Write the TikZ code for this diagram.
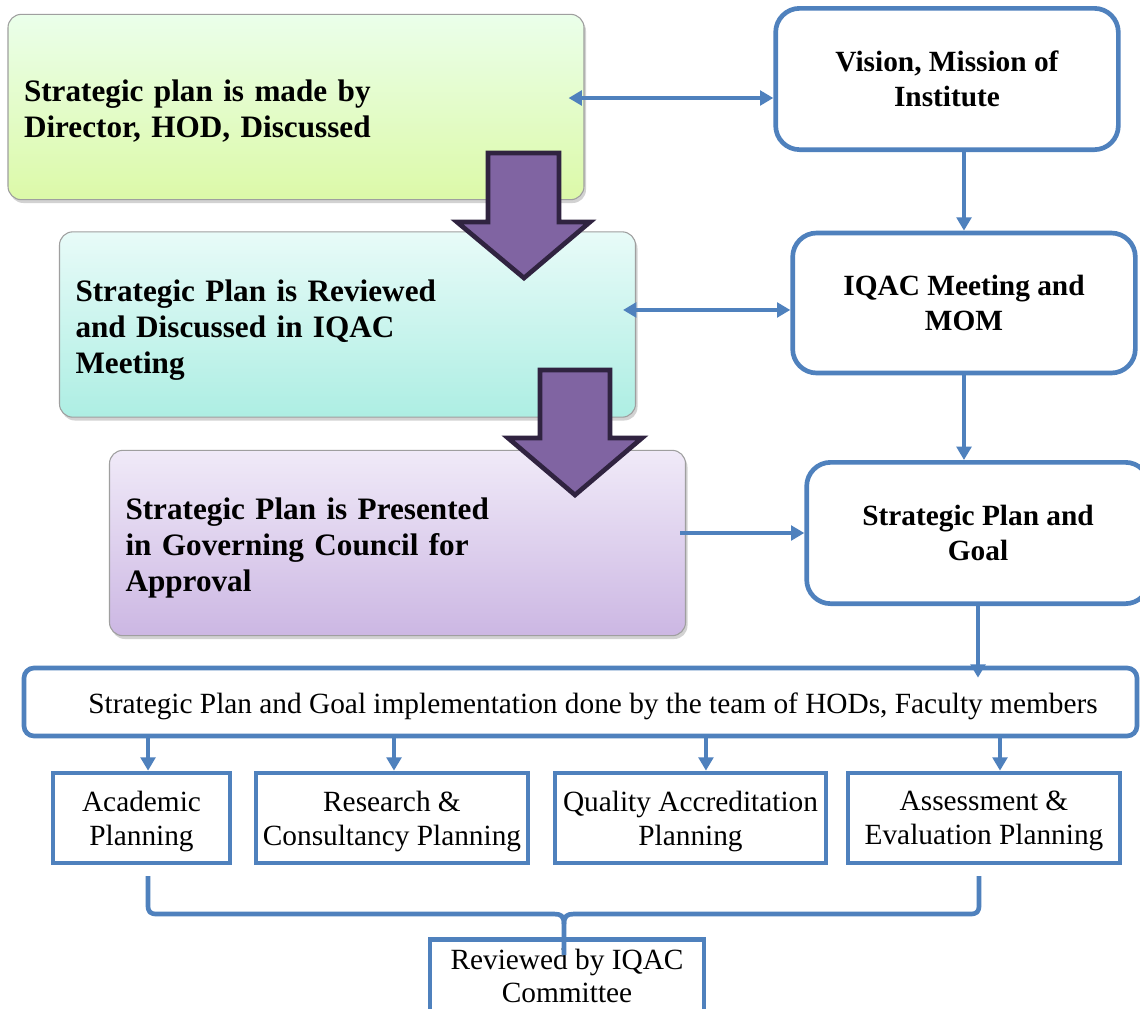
\documentclass[tikz,border=0pt]{standalone}
\usepackage{fontspec}
\setmainfont{Liberation Serif}
\usetikzlibrary{arrows.meta,shadows}
\definecolor{blu}{HTML}{4F81BD}
\definecolor{purp}{HTML}{8064A2}
\definecolor{purpdark}{HTML}{302340}
\begin{document}
\begin{tikzpicture}[x=0.75pt,y=-0.75pt,
  leftbox/.style={draw=gray!75, line width=0.8pt, rounded corners=10pt,
    minimum width=432pt, minimum height=139pt, inner xsep=12pt,
    text width=408pt, align=left,
    font=\fontsize{23.4}{27}\selectfont\bfseries,
    drop shadow={opacity=0.35,shadow xshift=1.5pt,shadow yshift=-2.5pt}},
  rbox/.style={draw=blu, line width=3.5pt, rounded corners=18pt, fill=white,
    minimum width=257pt, minimum height=106pt, align=center,
    font=\fontsize{22}{26}\selectfont\bfseries},
  bbox/.style={draw=blu, line width=3.5pt, fill=white,
    minimum height=67.5pt, align=center, inner sep=1pt, text depth=0pt,
    font=\fontsize{22}{25.5}\selectfont},
  conn/.style={draw=blu, line width=3.5pt, -{Triangle[length=10pt,width=11pt]}},
  dconn/.style={draw=blu, line width=3.5pt, {Triangle[length=10pt,width=11pt]}-{Triangle[length=10pt,width=11pt]}},
  blockarrow/.style={fill=purp, draw=purpdark, line width=3.5pt, line join=miter},
  bracepath/.style={draw=blu, line width=3.5pt}
]
\clip (0,0) rectangle (1140,1008);
\fill[white] (0,0) rectangle (1140,1008);

% left boxes
\node[leftbox, text depth=24pt, top color=green!8!white, bottom color={rgb,255:red,220;green,249;blue,168}] (b1) at (296,107)
  {Strategic plan is made by\\Director, HOD, Discussed};
\node[leftbox, text depth=51pt, top color={rgb,255:red,232;green,251;blue,248}, bottom color={rgb,255:red,173;green,238;blue,227}] (b2) at (347.5,324.5)
  {Strategic Plan is Reviewed\\and Discussed in IQAC\\Meeting};
\node[leftbox, text depth=51pt, top color={rgb,255:red,240;green,234;blue,248}, bottom color={rgb,255:red,204;green,183;blue,227}] (b3) at (397.5,543)
  {Strategic Plan is Presented\\in Governing Council for\\Approval};

% block arrows
\draw[blockarrow] (488,153) -- (559,153) -- (559,222) -- (590,222) -- (524,278) -- (457,222) -- (488,222) -- cycle;
\draw[blockarrow] (540,370) -- (610,370) -- (610,438) -- (642,438) -- (575,495) -- (508,438) -- (540,438) -- cycle;

% right boxes
\node[rbox] (vision) at (947,79) {Vision, Mission of\\Institute};
\node[rbox, minimum height=105pt] (iqac) at (964,303) {IQAC Meeting and\\MOM};
\node[rbox] (spg) at (978,533) {Strategic Plan and\\Goal};

% implementation box
\node[draw=blu, line width=3.5pt, rounded corners=7.5pt, fill=white,
  minimum width=834.75pt, minimum height=51pt] (impl) at (580.5,702) {};
\node[font=\fontsize{22}{25.5}\selectfont] (impltext) at (593,706)
  {Strategic Plan and Goal implementation done by the team of HODs, Faculty members};

% bottom boxes
\node[bbox, minimum width=132.75pt] (acad) at (141.5,818) {Academic\\Planning};
\node[bbox, minimum width=204pt] (res) at (392,818) {Research \&\\Consultancy Planning};
\node[bbox, minimum width=203.25pt] (qual) at (690.5,818) {Quality Accreditation\\Planning};
\node[bbox, minimum width=204pt] (assess) at (984,818) {Assessment \&\\Evaluation Planning};

% reviewed box
\node[bbox, minimum width=205.5pt, minimum height=75pt, anchor=north] (rev) at (567,937) {};
\node[font=\fontsize{22}{25}\selectfont, align=center] (revtext) at (567,976) {Reviewed by IQAC\\Committee};

% horizontal connectors
\draw[dconn] ([xshift=-12pt,yshift=6.75pt]b1.east) -- ([yshift=6.75pt]b1.east -| vision.west);
\draw[dconn] ([xshift=-9.75pt,yshift=10.9pt]b2.east) -- ([yshift=10.9pt]b2.east -| iqac.west);
\draw[conn] ([xshift=-4.5pt,yshift=7.5pt]b3.east) -- ([yshift=7.5pt]b3.east -| spg.west);

% vertical connectors
\draw[conn] (vision.south -| iqac.north) -- (iqac.north);
\draw[conn] (iqac.south) -- (iqac.south |- spg.north);
\draw[conn, shorten >=-9pt] (spg.south) -- (spg.south |- impl.north);

\draw[conn] ([xshift=4.9pt]acad.north |- impl.south) -- ([xshift=4.9pt]acad.north);
\draw[conn] ([xshift=1.5pt]res.north |- impl.south) -- ([xshift=1.5pt]res.north);
\draw[conn] ([xshift=11.6pt]qual.north |- impl.south) -- ([xshift=11.6pt]qual.north);
\draw[conn] ([xshift=12pt]assess.north |- impl.south) -- ([xshift=12pt]assess.north);

% brace
\draw[bracepath, line join=round] (148,876) -- (148,905) .. controls (148,912) and (150,914) .. (157,914)
  -- (554,914) .. controls (561,914) and (564,916) .. (564,924) -- (564,955);
\draw[bracepath, line join=round] (979,876) -- (979,905) .. controls (979,912) and (977,914) .. (970,914)
  -- (574,914) .. controls (567,914) and (564,916) .. (564,924);
\end{tikzpicture}
\end{document}
